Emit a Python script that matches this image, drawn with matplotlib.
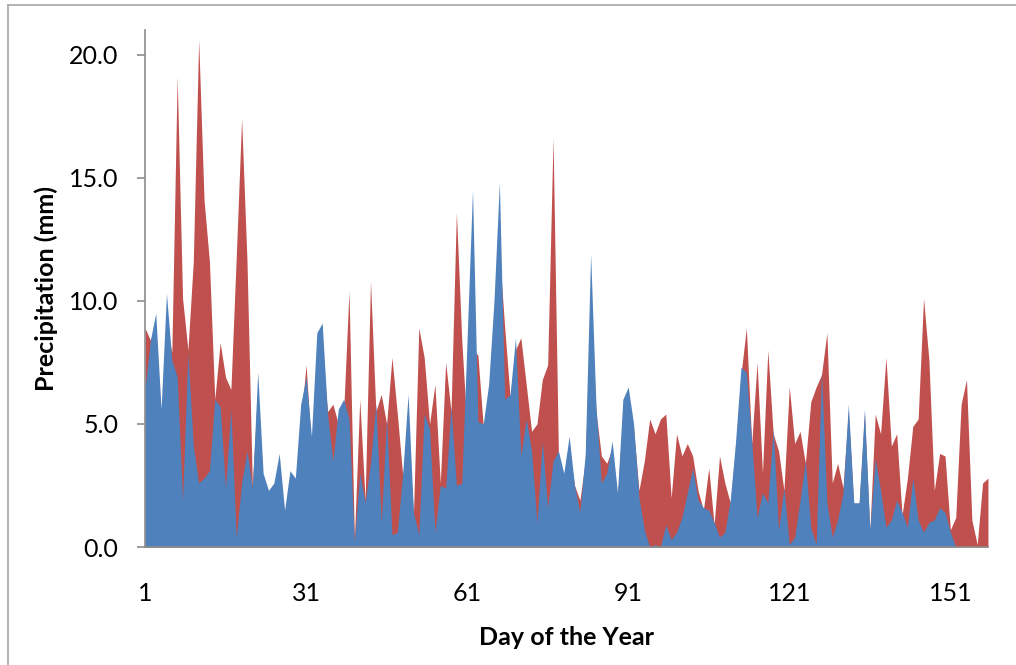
import numpy as np
import matplotlib
matplotlib.use("Agg")
import matplotlib.pyplot as plt
from matplotlib.lines import Line2D

# Daily precipitation (mm), days 1-158
days = np.arange(1, 159)

precip_red = [
    8.9, 8.4, 9.0, 5.0, 9.0, 7.9, 19.1, 10.1, 8.0, 11.6,
    20.6, 14.1, 11.6, 6.0, 8.3, 6.9, 6.4, 11.8, 17.4, 11.6,
    2.5, 6.5, 2.5, 2.0, 2.0, 3.0, 1.0, 2.5, 2.5, 5.0,
    7.4, 4.0, 7.0, 8.0, 5.5, 5.8, 5.0, 5.5, 10.4, 0.3,
    6.0, 1.9, 10.8, 5.5, 6.2, 5.0, 7.7, 5.4, 2.9, 5.0,
    1.3, 8.9, 7.7, 5.0, 6.6, 2.6, 7.5, 5.5, 13.6, 8.4,
    4.7, 8.0, 7.8, 4.9, 6.0, 9.0, 12.0, 8.9, 6.1, 8.0,
    8.5, 6.6, 4.7, 5.0, 6.8, 7.4, 16.6, 3.8, 2.8, 4.0,
    2.5, 1.9, 3.5, 10.0, 5.5, 3.7, 3.4, 4.0, 2.0, 5.5,
    6.0, 4.8, 2.3, 3.5, 5.2, 4.6, 5.2, 5.4, 2.0, 4.6,
    3.7, 4.2, 3.7, 2.3, 1.5, 3.2, 0.9, 3.7, 2.6, 1.8,
    4.0, 7.0, 8.9, 4.2, 7.5, 3.0, 8.0, 4.6, 3.9, 2.3,
    6.5, 4.2, 4.7, 3.4, 5.9, 6.5, 7.0, 8.7, 2.6, 3.4,
    2.4, 5.5, 1.7, 1.7, 5.4, 0.6, 5.4, 4.6, 7.7, 4.1,
    4.6, 1.3, 2.8, 4.9, 5.2, 10.1, 7.6, 2.3, 3.8, 3.7,
    0.7, 1.2, 5.8, 6.8, 1.1, 0.1, 2.6, 2.8,
]

precip_blue = [
    6.4, 8.4, 9.5, 5.6, 10.3, 7.6, 6.9, 1.9, 7.9, 4.1,
    2.6, 2.8, 3.1, 6.0, 5.7, 2.4, 5.6, 0.4, 2.6, 3.9,
    2.4, 7.1, 3.0, 2.3, 2.6, 3.8, 1.5, 3.1, 2.8, 5.8,
    6.9, 4.5, 8.7, 9.1, 5.4, 3.5, 5.6, 6.0, 5.2, 0.2,
    3.0, 1.8, 3.4, 5.8, 1.0, 5.2, 0.5, 0.6, 3.0, 6.2,
    1.4, 0.5, 5.4, 4.8, 0.6, 2.5, 2.4, 5.7, 2.5, 2.6,
    8.5, 14.5, 5.1, 5.0, 6.6, 10.0, 14.8, 6.0, 6.2, 8.5,
    3.7, 5.2, 3.9, 1.0, 4.3, 1.6, 3.5, 3.9, 3.0, 4.5,
    2.5, 1.4, 3.8, 11.9, 5.7, 2.6, 3.0, 4.3, 2.2, 6.0,
    6.5, 5.0, 2.0, 0.7, 0.0, 0.1, 0.0, 0.9, 0.3, 0.6,
    1.2, 2.2, 3.2, 1.9, 1.6, 1.5, 1.0, 0.4, 0.6, 1.9,
    4.3, 7.3, 7.1, 4.3, 1.2, 2.2, 1.8, 4.8, 0.7, 2.4,
    0.1, 0.4, 1.9, 3.5, 0.8, 0.1, 7.1, 1.8, 0.4, 1.1,
    2.2, 5.8, 1.8, 1.8, 5.6, 0.7, 3.6, 2.3, 0.8, 1.1,
    1.9, 1.4, 0.8, 2.8, 1.1, 0.6, 1.0, 1.1, 1.6, 1.4,
    0.6, 0.0, 0.0, 0.0, 0.0, 0.0, 0.0, 0.0,
]

x_ticks = [1, 31, 61, 91, 121, 151]
y_ticks = [0, 5, 10, 15, 20]

RED = "#C0504D"
BLUE = "#4F81BD"
AXIS_GRAY = "#8C8C8C"

plt.rcParams["font.family"] = ["Lato", "DejaVu Sans"]

fig = plt.figure(figsize=(10.16, 6.65), dpi=100)
ax = fig.add_axes([0.1427, 0.1774, 0.9724 - 0.1427, 0.9549 - 0.1774])

ax.fill_between(days, precip_red, 0, color=RED, linewidth=0)
ax.fill_between(days, precip_blue, 0, color=BLUE, linewidth=0)

ax.set_xlim(1, 158)
ax.set_ylim(0, 21)
ax.set_xticks(x_ticks)
ax.set_xticklabels([str(t) for t in x_ticks])
ax.set_yticks(y_ticks)
ax.set_yticklabels([f"{t:.1f}" for t in y_ticks])

for side in ("top", "right"):
    ax.spines[side].set_visible(False)
for side in ("left", "bottom"):
    ax.spines[side].set_color(AXIS_GRAY)
    ax.spines[side].set_linewidth(1.2)

ax.tick_params(axis="y", direction="out", length=6, width=1.2, color=AXIS_GRAY,
               labelsize=18, pad=13)
ax.tick_params(axis="x", length=0, labelsize=18, pad=25)

ax.set_xlabel("Day of the Year", fontsize=18, fontweight="bold", labelpad=15)
ax.set_ylabel("Precipitation (mm)", fontsize=18, fontweight="bold", labelpad=8)

# Chart frame along the top and left edges
fig.add_artist(Line2D([8 / 1016, 8 / 1016], [0, 1 - 5 / 665],
                      transform=fig.transFigure, color="#A6A6A6", linewidth=1.2))
fig.add_artist(Line2D([8 / 1016, 1], [1 - 5 / 665, 1 - 5 / 665],
                      transform=fig.transFigure, color="#A6A6A6", linewidth=1.2))

fig.savefig("out.png", dpi=100)
